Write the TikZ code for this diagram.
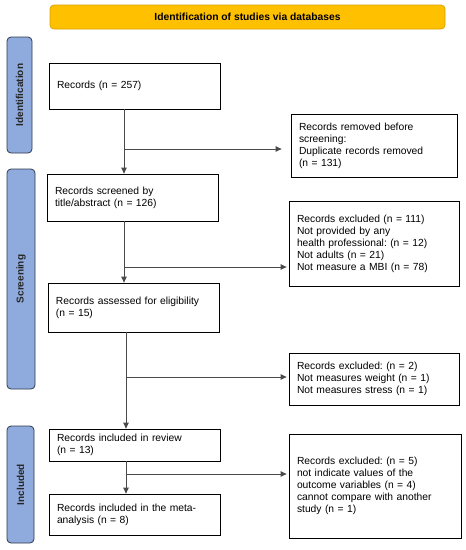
\documentclass[tikz,border=0pt]{standalone}
\usepackage{fontspec}
\setmainfont{Liberation Sans}
\usetikzlibrary{arrows.meta, positioning}
\frenchspacing
\definecolor{banner}{HTML}{FFC000}
\definecolor{bannerline}{HTML}{D9A300}
\definecolor{phase}{HTML}{8FAADC}
\definecolor{phaseline}{HTML}{2E3A4E}
\definecolor{flow}{HTML}{4A4A4A}
\tikzstyle{arrow} = [->, draw=flow, line width=0.9pt, >={Triangle[length=6pt,width=5.5pt]}]
\tikzstyle{record} = [draw, rectangle, line width=0.8pt, text width=155pt, minimum width=171pt, align=left, inner xsep=8pt, font=\fontsize{10.3}{12}\selectfont]
\tikzstyle{excluded} = [record, text width=154pt, minimum width=170pt]
\tikzstyle{phasebar} = [draw=phaseline, fill=phase, line width=0.8pt, rounded corners=4pt, minimum width=26pt, rotate=90, font=\fontsize{10}{12}\selectfont\bfseries, text=black!85]

\begin{document}
\begin{tikzpicture}[x=1pt, y=-1pt]
        \useasboundingbox (0,0) rectangle (466,550);
        % header and phases
        \node [draw=bannerline, fill=banner, line width=0.8pt, rounded corners=4pt, minimum width=395pt, minimum height=24pt, font=\fontsize{10.3}{12}\selectfont\bfseries] (header) at (247.5,17) {Identification of studies via databases};
        \node [phasebar, minimum height=25pt, minimum width=116pt] (phaseId) at (19.5,95) {Identification};
        \node [phasebar, minimum height=28pt, minimum width=220pt] (phaseScr) at (21,279) {Screening};
        \node [phasebar, minimum height=27pt, minimum width=117pt] (phaseInc) at (20.5,484.5) {Included};

        % main column
        \node [record, minimum height=46pt] (records) at (134.5,86) {Records (n = 257)};
        \node [record, minimum height=47pt, below of=records, node distance=111.5pt, xshift=-2pt] (screened) {Records screened by\\title/abstract (n = 126)};
        \node [record, minimum height=49pt, below of=screened, node distance=110pt, xshift=1pt] (assessed) {Records assessed for eligibility\\(n = 15)};
        \node [record, minimum height=32pt, below of=assessed, node distance=137.5pt, xshift=1pt] (review) {Records included in review\\(n = 13)};
        \node [record, minimum height=41pt, below of=review, node distance=69.5pt] (meta) {Records included in the meta-\\analysis (n = 8)};

        % excluded column
        \node [excluded, text width=150pt, minimum width=166pt, minimum height=63pt] (removed) at (374,145.5) {Records removed before\\screening:\\Duplicate records removed\\(n = 131)};
        \node [excluded, minimum height=85pt] (excl111) at (374,243.5) {Records excluded (n = 111)\\Not provided by any\\health professional: (n = 12)\\Not adults (n = 21)\\Not measure a MBI (n = 78)};
        \node [excluded, minimum height=52pt] (excl2) at (374,379) {Records excluded: (n = 2)\\Not measures weight (n = 1)\\Not measures stress (n = 1)\\[3pt]};
        \node [excluded, text width=156pt, minimum width=172pt, minimum height=104pt] (excl5) at (375,486) {Records excluded: (n = 5)\\not indicate values of the\\outcome variables (n = 4)\\cannot compare with another\\study (n = 1)\\[10pt]};

        % branch points
        \coordinate (bRemoved) at (124,149);
        \coordinate (bExcl111) at (124,267);
        \coordinate (bExcl2) at (126,377);
        \coordinate (bExcl5) at (126,474);

        \draw [arrow] (records.south -| bRemoved) -- (screened.north -| bRemoved);
        \draw [arrow] (screened.south -| bExcl111) -- (assessed.north -| bExcl111);
        \draw [arrow] (assessed.south -| bExcl2) -- (review.north -| bExcl2);
        \draw [arrow] (review.south -| bExcl5) -- (meta.north -| bExcl5);
        \draw [arrow, shorten >=9pt] (bRemoved) -- (bRemoved -| removed.west);
        \draw [arrow, shorten >=2pt] (bExcl111) -- (bExcl111 -| excl111.west);
        \draw [arrow, shorten >=2pt] (bExcl2) -- (bExcl2 -| excl2.west);
        \draw [arrow, shorten >=2pt] (bExcl5) -- (bExcl5 -| excl5.west);
    \end{tikzpicture}
\end{document}
